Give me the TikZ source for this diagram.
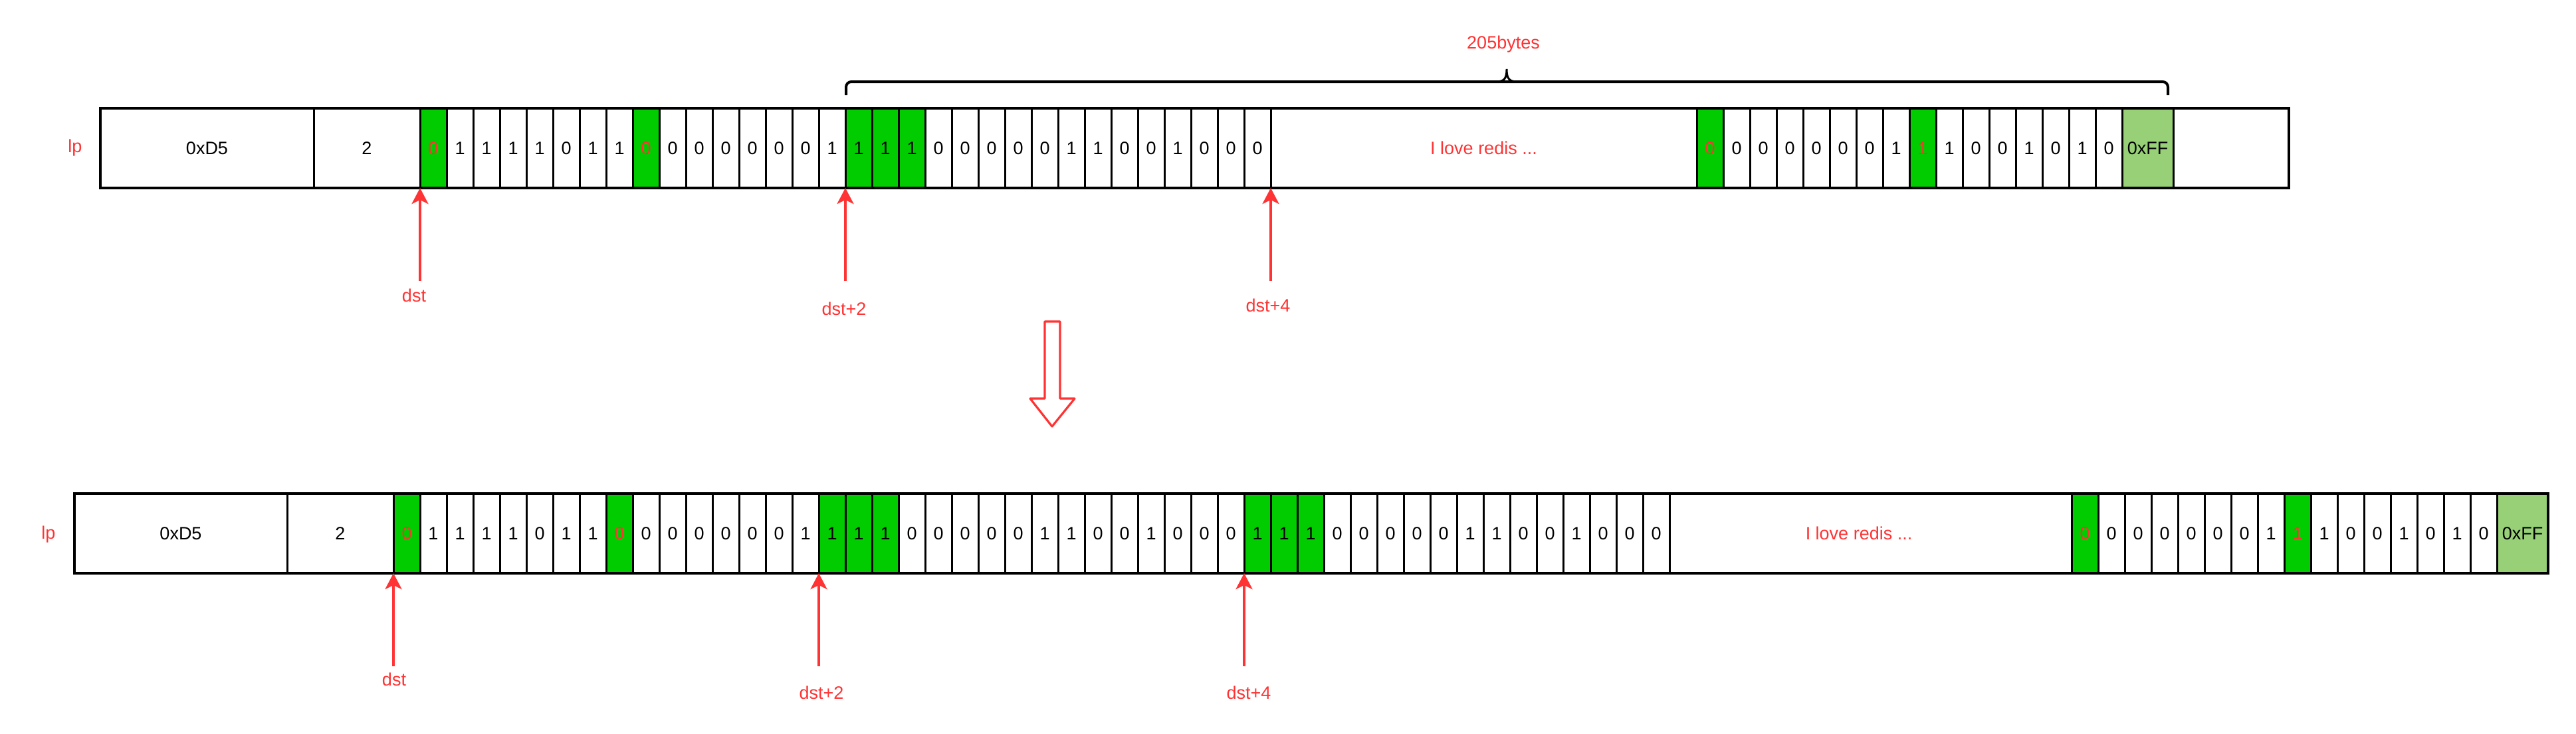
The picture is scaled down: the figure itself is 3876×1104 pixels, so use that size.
\documentclass[tikz,border=0pt]{standalone}
\usepackage{fontspec}
\setmainfont{Liberation Sans}
\usetikzlibrary{arrows.meta}
\definecolor{grn}{HTML}{00CC00}
\definecolor{lgrn}{HTML}{97D077}
\definecolor{rd}{HTML}{FF3333}
\newcommand{\dgfont}{\fontsize{13.5}{16}\selectfont}
\begin{document}
\begin{tikzpicture}[x=0.5pt,y=-0.5pt,
  cell/.style={draw=black, line width=1.5pt, minimum width=20pt, minimum height=60pt, inner sep=0pt, outer sep=0pt, anchor=north west, font=\dgfont, text=black},
  cn/.style={cell, fill=white},
  cg/.style={cell, fill=grn},
  cr/.style={cell, fill=grn, text=rd},
  box/.style={draw=black, line width=1.5pt, fill=white, minimum height=60pt, inner sep=0pt, outer sep=0pt, anchor=north west, font=\dgfont, text=black},
  frame/.style={draw=black, line width=2pt},
  rtext/.style={text=rd, font=\dgfont, inner sep=0pt},
  redarr/.style={draw=rd, line width=1.75pt, -{Stealth[length=12pt, width=12.5pt, inset=3pt]}},
  brace/.style={draw=black, line width=2pt, rounded corners=4pt},
  hollow/.style={draw=rd, line width=1.6pt, fill=white, line join=round}
]
\useasboundingbox (0,0) rectangle (3876,1104);

% ---------- top row ----------
\node[rtext] (tlp) at (113,223) {lp};
\node[box, minimum width=160.5pt] (tD5) at (151,163) {0xD5};
\node[box, minimum width=80pt] (ttwo) at (472,163) {2};
\foreach \s/\v [count=\i from 0] in {cr/0,cn/1,cn/1,cn/1,cn/1,cn/0,cn/1,cn/1,cr/0,cn/0,cn/0,cn/0,cn/0,cn/0,cn/0,cn/1,cg/1,cg/1,cg/1,cn/0,cn/0,cn/0,cn/0,cn/0,cn/1,cn/1,cn/0,cn/0,cn/1,cn/0,cn/0,cn/0}
  \node[\s] (t\i) at ({632+40*\i},163) {\v};
\node[box, minimum width=320.5pt, text=rd] (ttxt) at (1912,163) {I love redis ...};
\foreach \s/\v [count=\i from 0] in {cr/0,cn/0,cn/0,cn/0,cn/0,cn/0,cn/0,cn/1,cr/1,cn/1,cn/0,cn/0,cn/1,cn/0,cn/1,cn/0}
  \node[\s] (te\i) at ({2553+40*\i},163) {\v};
\node[box, fill=lgrn, minimum width=38.5pt] (tFF) at (3193,163) {0xFF};
\node[box, minimum width=87pt] (tend) at (3270,163) {};
\draw[frame] (tD5.north west) rectangle (tend.south east);

% brace
\coordinate (brL) at (1273,143);
\coordinate (brR) at (3262,143);
\draw[brace] (brL) -- (1273,123) -- (3262,123) -- (brR);
\draw[draw=black, line width=1.5pt] (2250,123) .. controls (2263,123) and (2267,119) .. (2267,104) .. controls (2267,119) and (2271,123) .. (2284,123);
\node[rtext] (tbytes) at (2262,67) {205bytes};

% top arrows
\coordinate (ta0) at (632,423);
\coordinate (ta2) at (1272,423);
\coordinate (ta4) at (1912,423);
\draw[redarr] (ta0) -- (t0.south west);
\draw[redarr] (ta2) -- (t16.south west);
\draw[redarr] (ta4) -- (ttxt.south west);
\node[rtext] (tl0) at (623,445) {dst};
\node[rtext] (tl2) at (1270,465) {dst+2};
\node[rtext] (tl4) at (1908,460) {dst+4};

% hollow down arrow
\draw[hollow] (1572,484) -- (1595,484) -- (1595,600) -- (1617,600) -- (1583,642) -- (1550,600) -- (1572,600) -- cycle;

% ---------- bottom row ----------
\node[rtext] (blp) at (73,805) {lp};
\node[box, minimum width=160pt] (bD5) at (112,743) {0xD5};
\node[box, minimum width=80pt] (btwo) at (432,743) {2};
\foreach \s/\v [count=\i from 0] in {cr/0,cn/1,cn/1,cn/1,cn/1,cn/0,cn/1,cn/1,cr/0,cn/0,cn/0,cn/0,cn/0,cn/0,cn/0,cn/1,cg/1,cg/1,cg/1,cn/0,cn/0,cn/0,cn/0,cn/0,cn/1,cn/1,cn/0,cn/0,cn/1,cn/0,cn/0,cn/0,cg/1,cg/1,cg/1,cn/0,cn/0,cn/0,cn/0,cn/0,cn/1,cn/1,cn/0,cn/0,cn/1,cn/0,cn/0,cn/0}
  \node[\s] (b\i) at ({592+40*\i},743) {\v};
\node[box, minimum width=302.5pt] (btxtbox) at (2512,743) {};
\node[rtext] (btxt) at (2797,803) {I love redis ...};
\foreach \s/\v [count=\i from 0] in {cr/0,cn/0,cn/0,cn/0,cn/0,cn/0,cn/0,cn/1,cr/1,cn/1,cn/0,cn/0,cn/1,cn/0,cn/1,cn/0}
  \node[\s] (be\i) at ({3117+40*\i},743) {\v};
\node[box, fill=lgrn, minimum width=38.5pt] (bFF) at (3757,743) {0xFF};
\draw[frame] (bD5.north west) rectangle (bFF.south east);

% bottom arrows
\coordinate (ba0) at (592,1003);
\coordinate (ba2) at (1232,1003);
\coordinate (ba4) at (1872,1003);
\draw[redarr] (ba0) -- (b0.south west);
\draw[redarr] (ba2) -- (b16.south west);
\draw[redarr] (ba4) -- (b32.south west);
\node[rtext] (bl0) at (593,1023) {dst};
\node[rtext] (bl2) at (1236,1043) {dst+2};
\node[rtext] (bl4) at (1879,1043) {dst+4};
\end{tikzpicture}
\end{document}
